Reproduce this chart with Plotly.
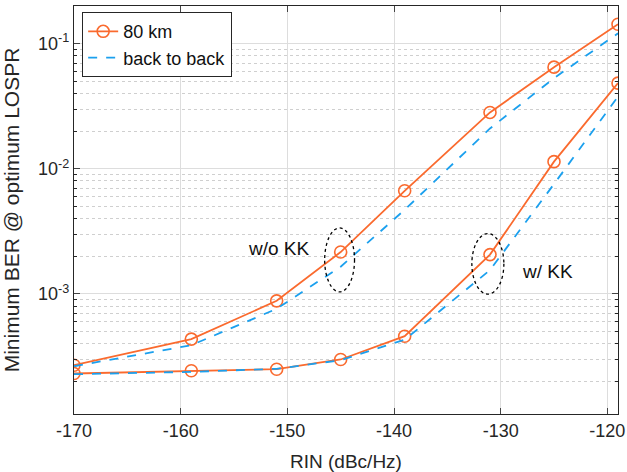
import plotly.graph_objects as go

rin = [-170, -159, -151, -145, -139, -131, -125, -119]
km80_wo = [2.69e-4, 4.35e-4, 8.8e-4, 2.16e-3, 6.67e-3, 2.82e-2, 6.49e-2, 0.143]
b2b_wo = [2.64e-4, 3.89e-4, 7.6e-4, 1.65e-3, 4.7e-3, 2.1e-2, 5.3e-2, 0.121]
km80_kk = [2.31e-4, 2.43e-4, 2.50e-4, 2.99e-4, 4.59e-4, 2.06e-3, 1.14e-2, 4.84e-2]
b2b_kk = [2.28e-4, 2.38e-4, 2.52e-4, 2.95e-4, 4.3e-4, 1.55e-3, 7.55e-3, 3.78e-2]

xticks = [-170, -160, -150, -140, -130, -120]
xticktext = ["-170", "-160", "-150", "-140", "-130", "-120"]
yticks = [1e-3, 1e-2, 1e-1]
yticktext = ["10<sup>-3</sup>", "10<sup>-2</sup>", "10<sup>-1</sup>"]
minor_y = [m * d for d in (1e-4, 1e-3, 1e-2, 1e-1) for m in range(2, 10)]

ORANGE = "#FA6A2E"
BLUE = "#1BA0EE"
TXT = "#262626"

fig = go.Figure()
fig.add_trace(go.Scatter(x=rin, y=km80_wo, mode="lines+markers", name="80 km",
                         line=dict(color=ORANGE, width=1.8),
                         marker=dict(symbol="circle-open", size=12, color=ORANGE, line=dict(width=1.6))))
fig.add_trace(go.Scatter(x=rin, y=b2b_wo, mode="lines", name="back to back",
                         line=dict(color=BLUE, width=1.8, dash="dash")))
fig.add_trace(go.Scatter(x=rin, y=km80_kk, mode="lines+markers", showlegend=False,
                         line=dict(color=ORANGE, width=1.8),
                         marker=dict(symbol="circle-open", size=12, color=ORANGE, line=dict(width=1.6))))
fig.add_trace(go.Scatter(x=rin, y=b2b_kk, mode="lines", showlegend=False,
                         line=dict(color=BLUE, width=1.8, dash="dash")))

# dotted ellipses
fig.add_shape(type="circle", xref="x", yref="y", x0=-146.5, x1=-143.7,
              y0=10**-2.984, y1=10**-2.473, line=dict(color="black", width=1.3, dash="dot"))
fig.add_shape(type="circle", xref="x", yref="y", x0=-132.7, x1=-129.7,
              y0=10**-3.002, y1=10**-2.518, line=dict(color="black", width=1.3, dash="dot"))

fig.add_annotation(x=-150.8, y=-2.641, xref="x", yref="y", text="w/o KK", showarrow=False,
                   font=dict(size=19, color="#111"))
fig.add_annotation(x=-125.6, y=-2.824, xref="x", yref="y", text="w/ KK", showarrow=False,
                   font=dict(size=19, color="#111"))

fig.update_layout(
    width=627, height=472,
    margin=dict(l=74, r=9, t=6, b=58),
    paper_bgcolor="white", plot_bgcolor="white",
    font=dict(family="Liberation Sans, Arial, sans-serif", size=18, color=TXT),
    legend=dict(x=0.015, y=0.985, xanchor="left", yanchor="top",
                bgcolor="white", bordercolor=TXT, borderwidth=1,
                font=dict(size=18, color="#111"), tracegroupgap=0, itemwidth=30),
)
fig.update_xaxes(range=[-170, -119], tickvals=xticks, ticktext=xticktext, ticks="inside", ticklen=6,
                 showline=True, linecolor=TXT, linewidth=1.2, mirror="ticks", automargin=False,
                 showgrid=True, gridcolor="#DDDDDD", gridwidth=1, zeroline=False,
                 title=dict(text="RIN (dBc/Hz)", font=dict(size=19)),
                 tickfont=dict(size=18))
fig.update_yaxes(type="log", range=[-3.96, -0.699], tickvals=yticks, ticktext=yticktext,
                 ticks="inside", ticklen=6, automargin=False,
                 showline=True, linecolor=TXT, linewidth=1.2, mirror="ticks",
                 showgrid=True, gridcolor="#DDDDDD", gridwidth=1,
                 minor=dict(tickvals=minor_y, ticks="inside", ticklen=3, tickcolor=TXT,
                            showgrid=True, gridcolor="#CFCFCF", griddash="dot", gridwidth=1),
                 title=dict(text="Minimum BER @ optimum LOSPR", font=dict(size=21)),
                 tickfont=dict(size=18))

fig.write_html("out.html", config={"displayModeBar": False},
               post_script="document.body.style.margin='0px';")
